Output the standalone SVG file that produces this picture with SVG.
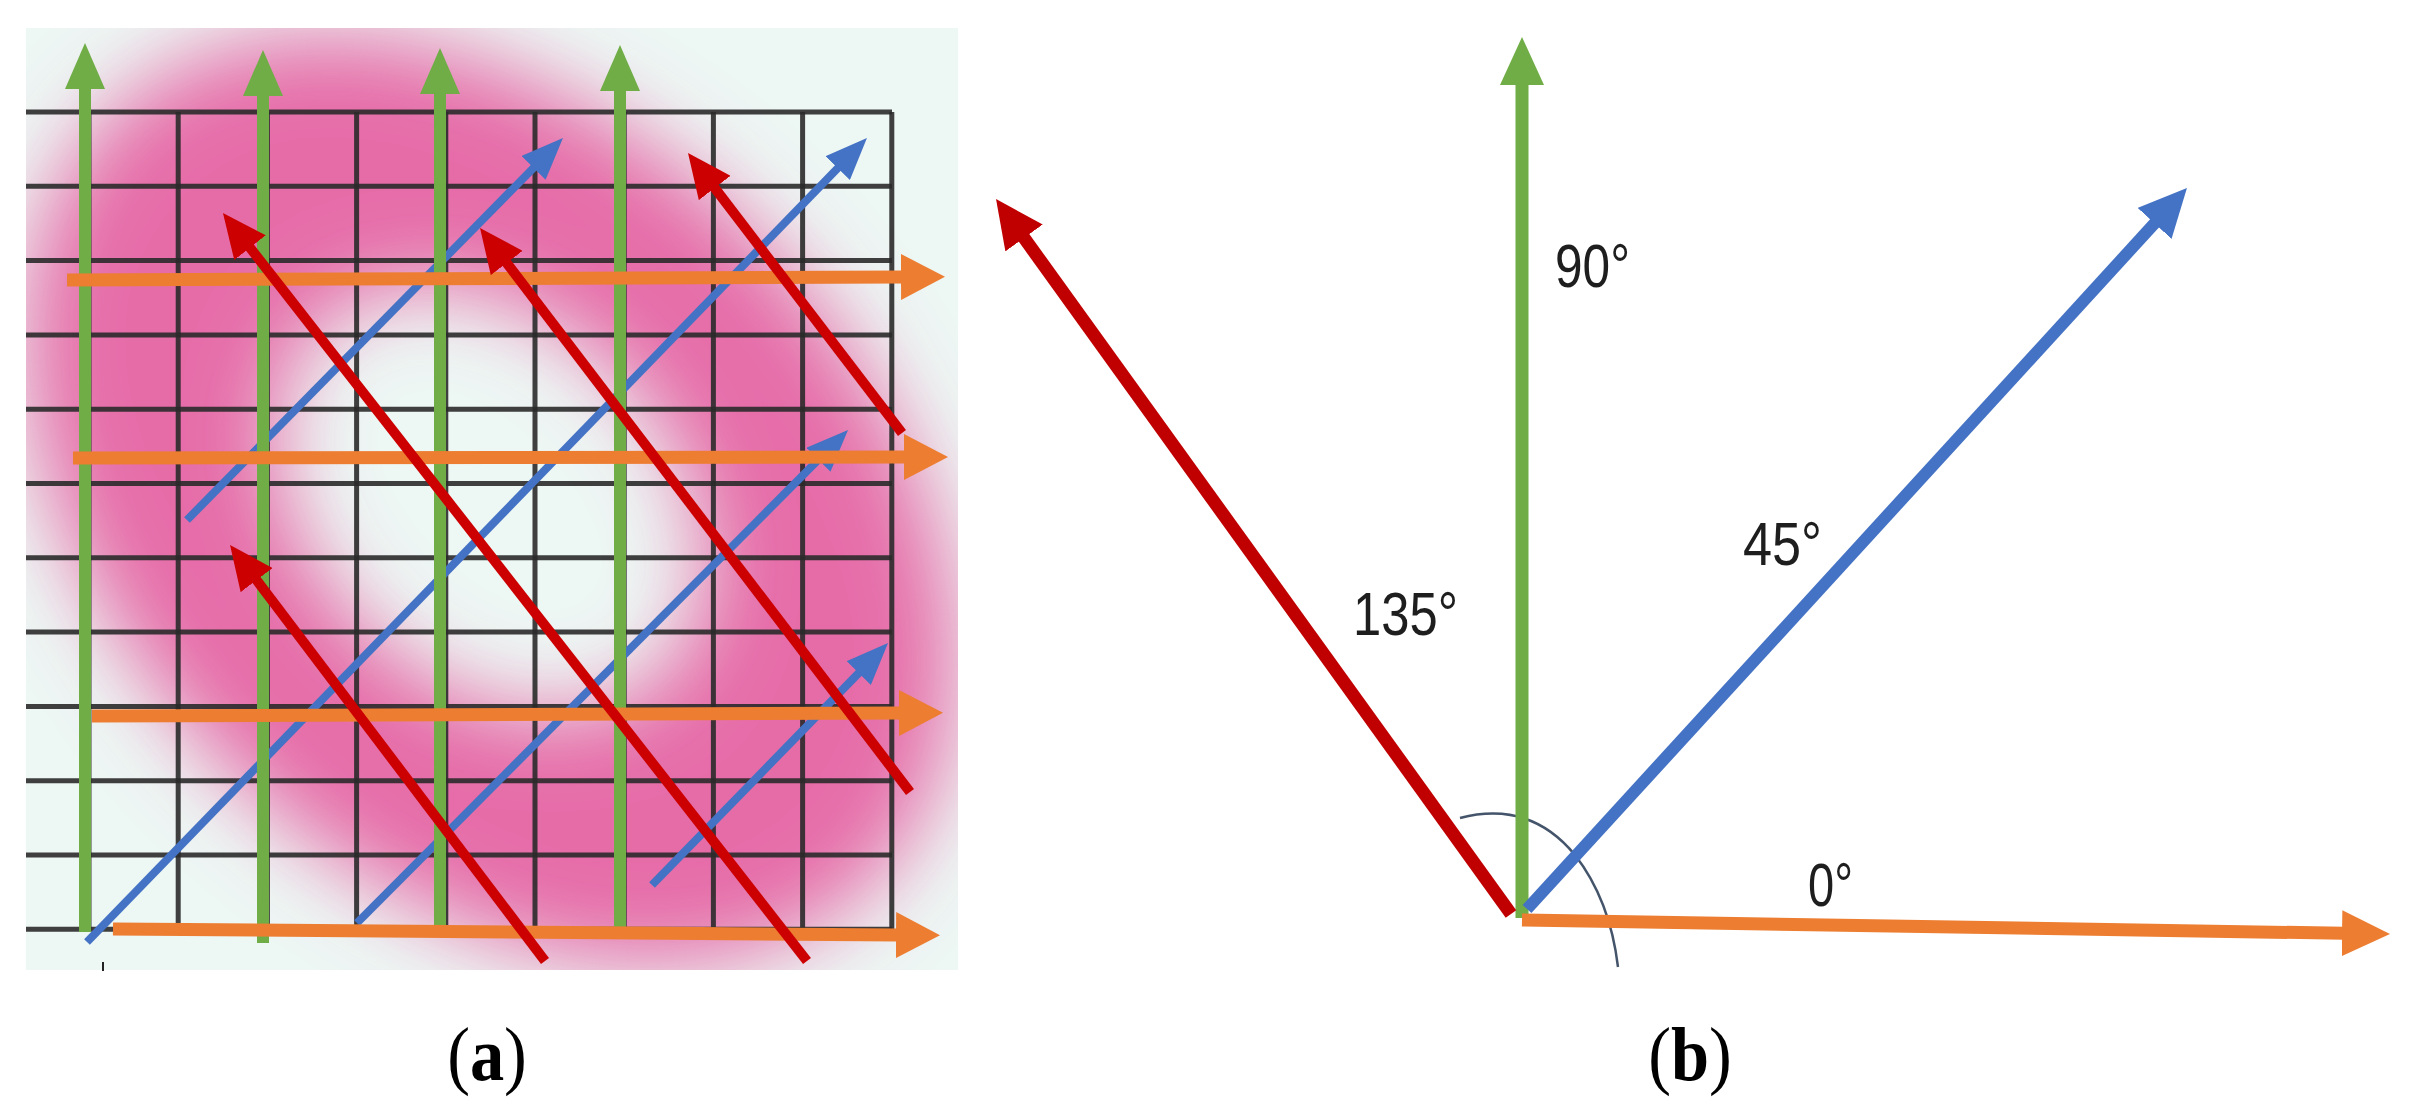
<svg xmlns="http://www.w3.org/2000/svg" width="2412" height="1112" viewBox="0 0 2412 1112">
  <defs>
    <style>
      .grid line { stroke: #2a2a2a; stroke-width: 5; stroke-opacity: 0.9; }
      .ga { stroke: #70AD47; stroke-width: 12; fill: none; }
      .oa { stroke: #ED7D31; stroke-width: 13; fill: none; }
      .ba { stroke: #4472C4; stroke-width: 8; fill: none; }
      .ra { stroke: #CC0000; stroke-width: 10; fill: none; }
      .gb { stroke: #70AD47; stroke-width: 13; fill: none; }
      .ob { stroke: #ED7D31; stroke-width: 13; fill: none; }
      .bb { stroke: #4472C4; stroke-width: 12; fill: none; }
      .rb { stroke: #C00000; stroke-width: 13; fill: none; }
      .deg { font-family: "Liberation Sans", Arial, sans-serif; font-size: 62px; fill: #1e1e1e; }
      .cap { font-family: "Liberation Serif", "Times New Roman", serif; font-size: 76px; fill: #000; }
    </style>
    <marker id="mGa" markerUnits="userSpaceOnUse" viewBox="0 0 46 40" refX="2" refY="20" markerWidth="46" markerHeight="40" orient="auto"><path d="M0,0 L46,20 L0,40 z" fill="#70AD47"/></marker>
    <marker id="mOa" markerUnits="userSpaceOnUse" viewBox="0 0 44 46" refX="2" refY="23" markerWidth="44" markerHeight="46" orient="auto"><path d="M0,0 L44,23 L0,46 z" fill="#ED7D31"/></marker>
    <marker id="mBa" markerUnits="userSpaceOnUse" viewBox="0 0 42 34" refX="2" refY="17" markerWidth="42" markerHeight="34" orient="auto"><path d="M0,0 L42,17 L0,34 z" fill="#4472C4"/></marker>
    <marker id="mRa" markerUnits="userSpaceOnUse" viewBox="0 0 44 40" refX="2" refY="20" markerWidth="44" markerHeight="40" orient="auto"><path d="M0,0 L44,20 L0,40 z" fill="#CC0000"/></marker>
    <marker id="mGb" markerUnits="userSpaceOnUse" viewBox="0 0 48 44" refX="2" refY="22" markerWidth="48" markerHeight="44" orient="auto"><path d="M0,0 L48,22 L0,44 z" fill="#70AD47"/></marker>
    <marker id="mOb" markerUnits="userSpaceOnUse" viewBox="0 0 48 46" refX="2" refY="23" markerWidth="48" markerHeight="46" orient="auto"><path d="M0,0 L48,23 L0,46 z" fill="#ED7D31"/></marker>
    <marker id="mBb" markerUnits="userSpaceOnUse" viewBox="0 0 48 46" refX="2" refY="23" markerWidth="48" markerHeight="46" orient="auto"><path d="M0,0 L48,23 L0,46 z" fill="#4472C4"/></marker>
    <marker id="mRb" markerUnits="userSpaceOnUse" viewBox="0 0 48 46" refX="2" refY="23" markerWidth="48" markerHeight="46" orient="auto"><path d="M0,0 L48,23 L0,46 z" fill="#C00000"/></marker>
    <filter id="blur" filterUnits="userSpaceOnUse" x="-200" y="-200" width="1400" height="1400">
      <feGaussianBlur stdDeviation="42"/>
    </filter>
    <clipPath id="clipA"><rect x="26" y="28" width="932" height="942"/></clipPath>
  </defs>

  <rect width="2412" height="1112" fill="#ffffff"/>

  <!-- Panel (a) background -->
  <g id="panel-a-bg">
    <rect x="26" y="28" width="932" height="942" fill="#edf7f4"/>
    <g clip-path="url(#clipA)">
      <g filter="url(#blur)">
        <path transform="rotate(45 490 500)" fill="#e5529a" fill-opacity="0.84" fill-rule="evenodd"
              d="M-50,500 a540,375 0 1,0 1080,0 a540,375 0 1,0 -1080,0 Z M245,500 a245,180 0 1,0 490,0 a245,180 0 1,0 -490,0 Z"/>
      </g>
    </g>
  </g>

  <!-- Panel (a) grid -->
  <g id="grid-a" class="grid">
    <line x1="26" y1="112" x2="892" y2="112"/>
    <line x1="26" y1="186.3" x2="892" y2="186.3"/>
    <line x1="26" y1="260.6" x2="892" y2="260.6"/>
    <line x1="26" y1="334.9" x2="892" y2="334.9"/>
    <line x1="26" y1="409.2" x2="892" y2="409.2"/>
    <line x1="26" y1="483.5" x2="892" y2="483.5"/>
    <line x1="26" y1="557.8" x2="892" y2="557.8"/>
    <line x1="26" y1="632.1" x2="892" y2="632.1"/>
    <line x1="26" y1="706.4" x2="892" y2="706.4"/>
    <line x1="26" y1="780.7" x2="892" y2="780.7"/>
    <line x1="26" y1="855" x2="892" y2="855"/>
    <line x1="26" y1="929.3" x2="892" y2="929.3"/>
    <line x1="89" y1="112" x2="89" y2="929.3"/>
    <line x1="178.2" y1="112" x2="178.2" y2="929.3"/>
    <line x1="267.4" y1="112" x2="267.4" y2="929.3"/>
    <line x1="356.6" y1="112" x2="356.6" y2="929.3"/>
    <line x1="445.8" y1="112" x2="445.8" y2="929.3"/>
    <line x1="535" y1="112" x2="535" y2="929.3"/>
    <line x1="624.2" y1="112" x2="624.2" y2="929.3"/>
    <line x1="713.4" y1="112" x2="713.4" y2="929.3"/>
    <line x1="802.6" y1="112" x2="802.6" y2="929.3"/>
    <line x1="891.8" y1="112" x2="891.8" y2="929.3"/>
  </g>
  <line id="tick-a" x1="103" y1="962" x2="103" y2="971" stroke="#222" stroke-width="2"/>

  <!-- Connectors (arrows) -->
  <g id="connectors">
    <g id="arrows-a-blue">
      <line class="ba" x1="87" y1="942" x2="839.1" y2="166.7" marker-end="url(#mBa)"/>
      <line class="ba" x1="357" y1="923" x2="819.8" y2="458.3" marker-end="url(#mBa)"/>
      <line class="ba" x1="187" y1="520" x2="534.9" y2="166.5" marker-end="url(#mBa)"/>
      <line class="ba" x1="652" y1="885" x2="860.1" y2="671.6" marker-end="url(#mBa)"/>
    </g>
    <g id="arrows-a-green">
      <line class="ga" x1="85" y1="932" x2="85" y2="87" marker-end="url(#mGa)"/>
      <line class="ga" x1="263" y1="943" x2="263" y2="94" marker-end="url(#mGa)"/>
      <line class="ga" x1="440" y1="937" x2="440" y2="92" marker-end="url(#mGa)"/>
      <line class="ga" x1="620" y1="937" x2="620" y2="89" marker-end="url(#mGa)"/>
    </g>
    <g id="arrows-a-orange">
      <line class="oa" x1="67" y1="280" x2="903" y2="277" marker-end="url(#mOa)"/>
      <line class="oa" x1="73" y1="458" x2="906" y2="457" marker-end="url(#mOa)"/>
      <line class="oa" x1="92" y1="716" x2="901" y2="713" marker-end="url(#mOa)"/>
      <line class="oa" x1="113" y1="929" x2="898" y2="935" marker-end="url(#mOa)"/>
    </g>
    <g id="arrows-a-red">
      <line class="ra" x1="807" y1="961" x2="248.8" y2="246.1" marker-end="url(#mRa)"/>
      <line class="ra" x1="910" y1="792" x2="505.5" y2="261.4" marker-end="url(#mRa)"/>
      <line class="ra" x1="902" y1="433" x2="713.5" y2="186.4" marker-end="url(#mRa)"/>
      <line class="ra" x1="545" y1="961" x2="255.4" y2="578.5" marker-end="url(#mRa)"/>
    </g>

    <g id="arrows-b">
      <path id="arc-b" d="M1460,818 Q1530,800 1575,855 Q1610,900 1618,967" fill="none" stroke="#44546A" stroke-width="2.5"/>
      <line class="gb" x1="1522" y1="918" x2="1522" y2="83" marker-end="url(#mGb)"/>
      <line class="rb" x1="1511" y1="914" x2="1022.9" y2="236.3" marker-end="url(#mRb)"/>
      <line class="bb" x1="1527" y1="909" x2="2155.9" y2="221.9" marker-end="url(#mBb)"/>
      <line class="ob" x1="1522" y1="920" x2="2344" y2="933.3" marker-end="url(#mOb)"/>
    </g>
  </g>

  <!-- Angle labels (b) -->
  <g id="label-90"><text class="deg" x="1555" y="287" textLength="75" lengthAdjust="spacingAndGlyphs">90°</text></g>
  <g id="label-45"><text class="deg" x="1743" y="565" textLength="79" lengthAdjust="spacingAndGlyphs">45°</text></g>
  <g id="label-135"><text class="deg" x="1353" y="635" textLength="105" lengthAdjust="spacingAndGlyphs">135°</text></g>
  <g id="label-0"><text class="deg" x="1808" y="906" textLength="45" lengthAdjust="spacingAndGlyphs">0°</text></g>

  <!-- Panel captions -->
  <g id="caption-a"><text class="cap" text-anchor="middle" transform="translate(487 1080) scale(0.9 1)">(<tspan font-weight="bold">a</tspan>)</text></g>
  <g id="caption-b"><text class="cap" text-anchor="middle" transform="translate(1690 1080) scale(0.9 1)">(<tspan font-weight="bold">b</tspan>)</text></g>
</svg>
